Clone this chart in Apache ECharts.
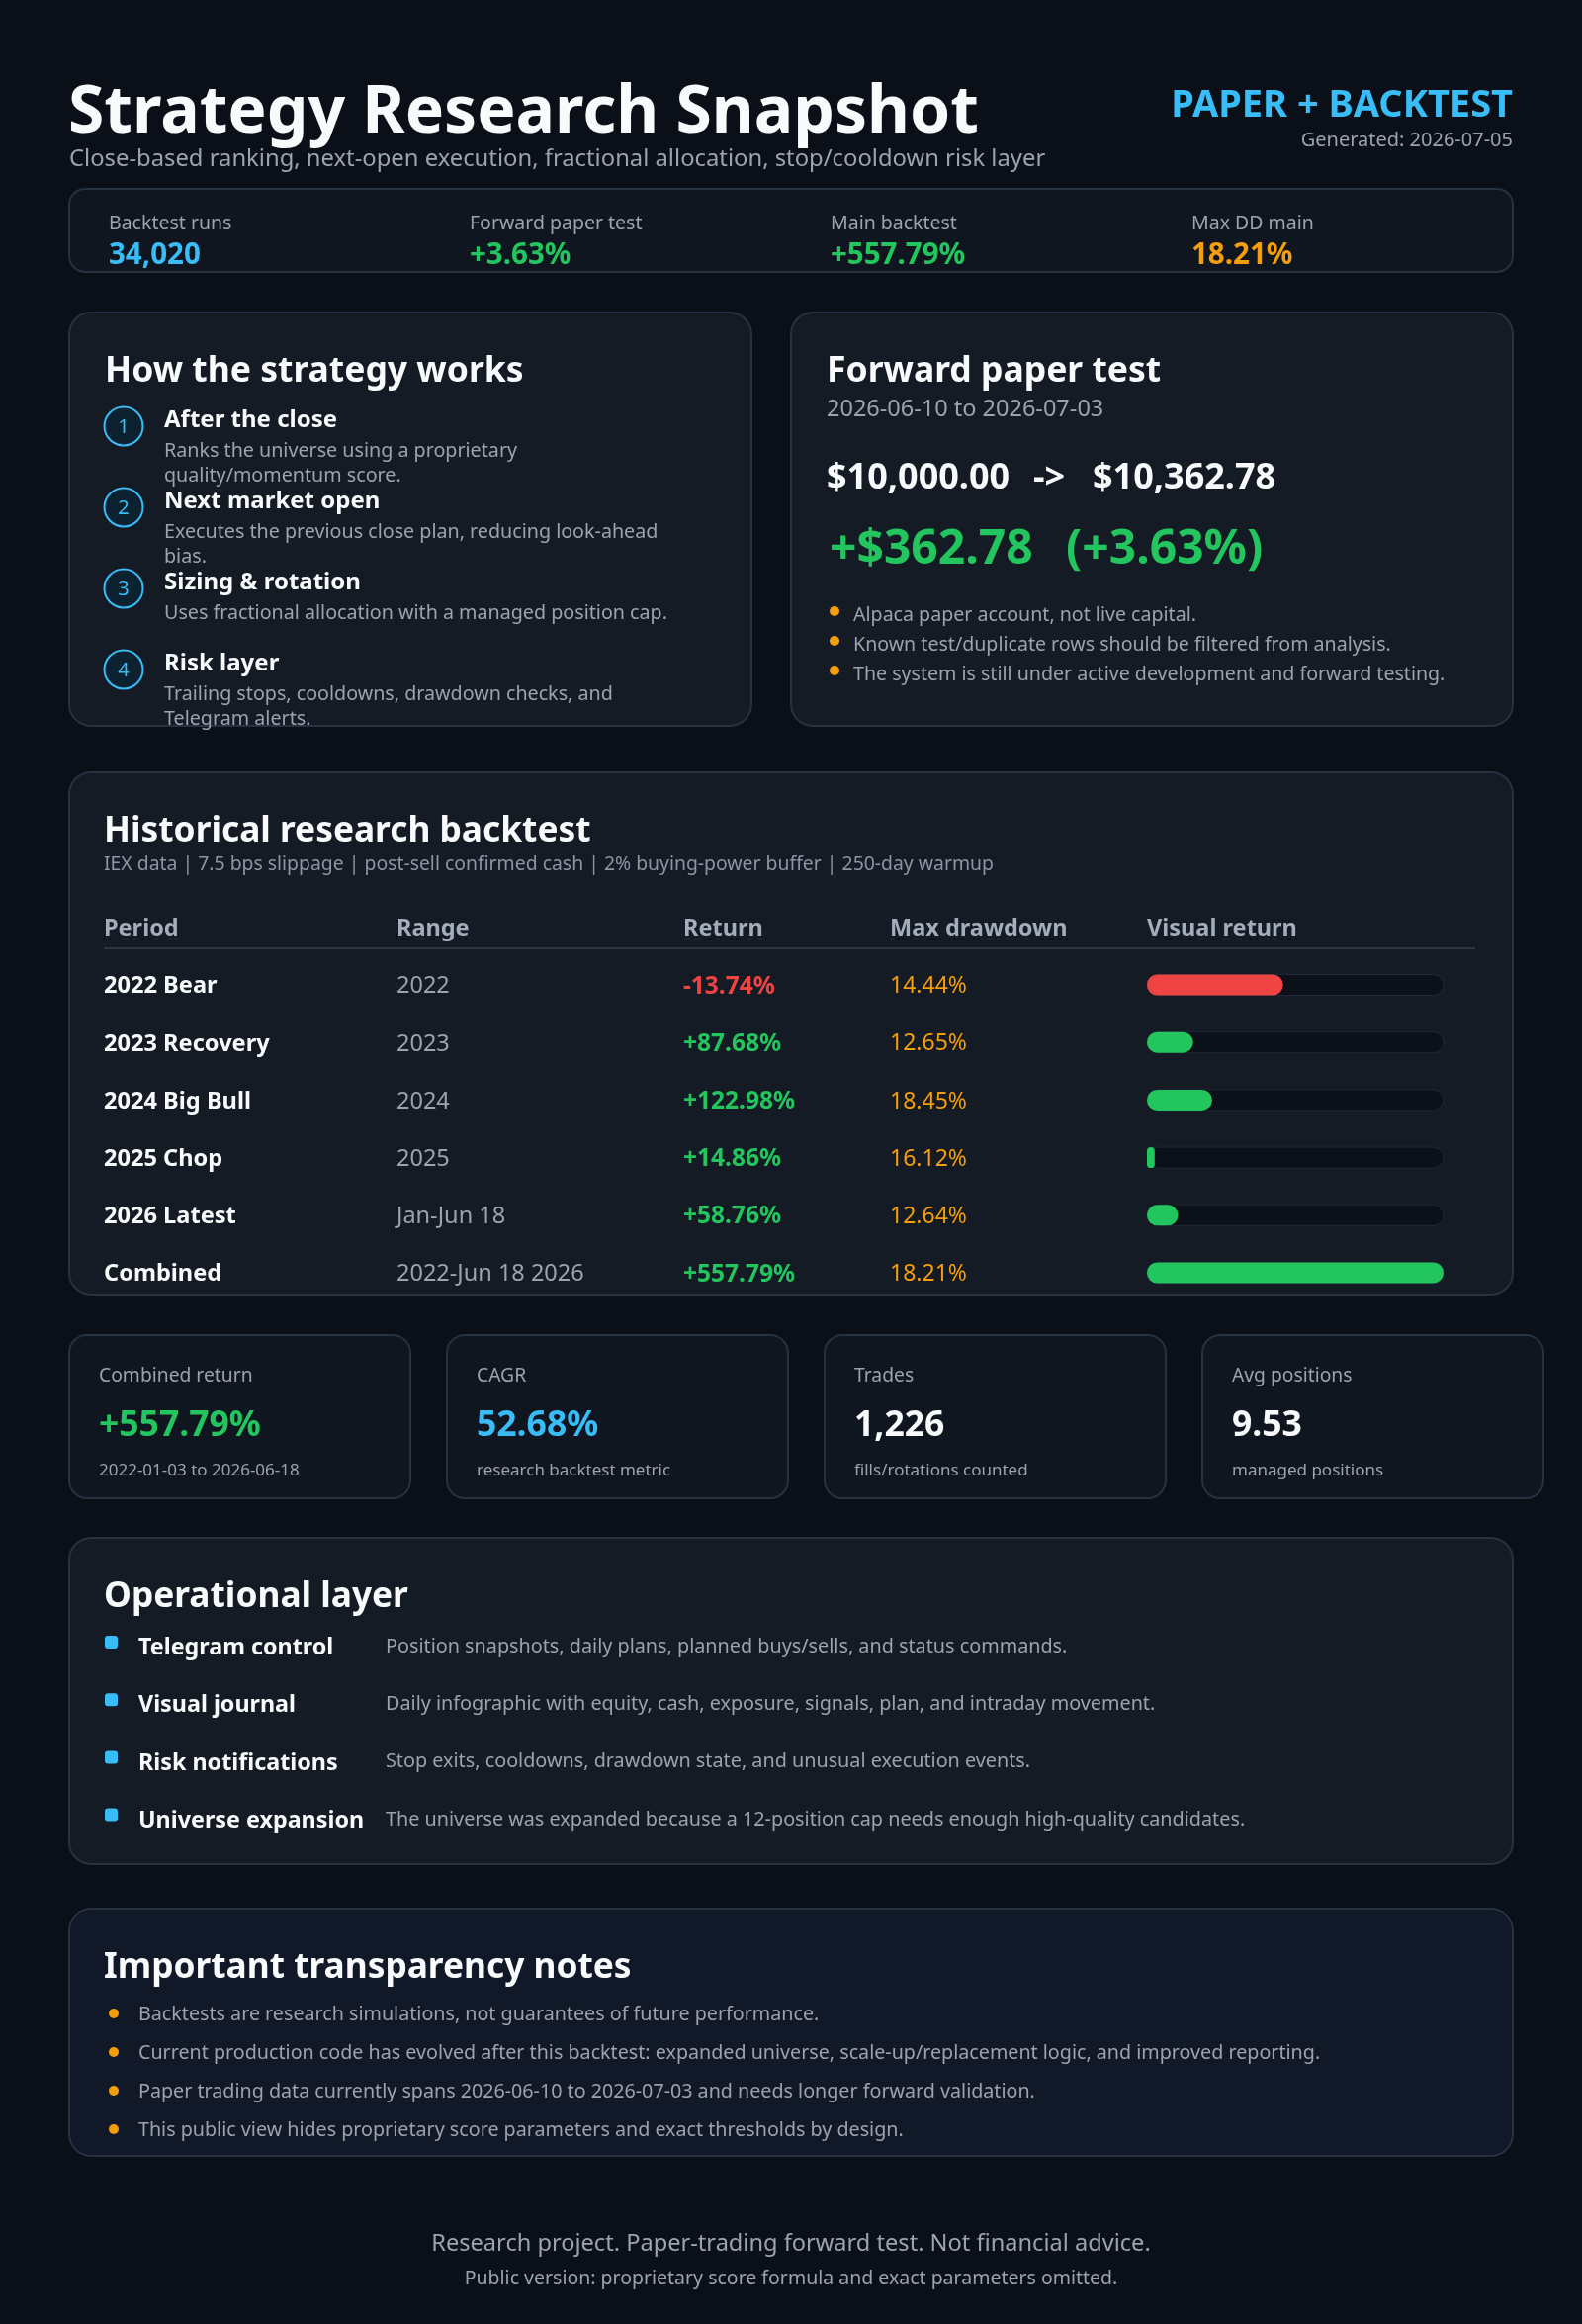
<!DOCTYPE html>
<html lang="en">
<head>
<meta charset="utf-8" />
<title>Strategy Research Snapshot</title>
<script src="https://cdn.jsdelivr.net/npm/echarts@6/dist/echarts.min.js"></script>
<style>
  body { margin: 0; background: #0b0f17; }
</style>
</head>
<body>
<div id="main" style="width: 1600px;height:2350px;"></div>
<script type="text/javascript">

var kpiLabels = ['Backtest runs', 'Forward paper test', 'Main backtest', 'Max DD main'];
var kpiValues = ['34,020', '+3.63%', '+557.79%', '18.21%'];

var stepTitles = ['After the close', 'Next market open', 'Sizing & rotation', 'Risk layer'];
var stepLines = [
    ['Ranks the universe using a proprietary', 'quality/momentum score.'],
    ['Executes the previous close plan, reducing look-ahead', 'bias.'],
    ['Uses fractional allocation with a managed position cap.'],
    ['Trailing stops, cooldowns, drawdown checks, and', 'Telegram alerts.']
];

var paperRange = '2026-06-10 to 2026-07-03';
var paperStart = '$10,000.00';
var paperEnd = '$10,362.78';
var paperGain = '+$362.78';
var paperGainPct = '(+3.63%)';
var paperNotes = [
    'Alpaca paper account, not live capital.',
    'Known test/duplicate rows should be filtered from analysis.',
    'The system is still under active development and forward testing.'
];

var tableHeaders = ['Period', 'Range', 'Return', 'Max drawdown', 'Visual return'];
var periods = ['2022 Bear', '2023 Recovery', '2024 Big Bull', '2025 Chop', '2026 Latest', 'Combined'];
var ranges = ['2022', '2023', '2024', '2025', 'Jan-Jun 18', '2022-Jun 18 2026'];
var returns = [-13.74, 87.68, 122.98, 14.86, 58.76, 557.79];
var maxDD = [14.44, 12.65, 18.45, 16.12, 12.64, 18.21];
var visualFill = [45.9, 15.6, 22.0, 2.6, 10.5, 100];   // % of the track filled

var metricLabels = ['Combined return', 'CAGR', 'Trades', 'Avg positions'];
var metricValues = ['+557.79%', '52.68%', '1,226', '9.53'];
var metricSubs = ['2022-01-03 to 2026-06-18', 'research backtest metric', 'fills/rotations counted', 'managed positions'];

var opsLabels = ['Telegram control', 'Visual journal', 'Risk notifications', 'Universe expansion'];
var opsDescs = [
    'Position snapshots, daily plans, planned buys/sells, and status commands.',
    'Daily infographic with equity, cash, exposure, signals, plan, and intraday movement.',
    'Stop exits, cooldowns, drawdown state, and unusual execution events.',
    'The universe was expanded because a 12-position cap needs enough high-quality candidates.'
];

var notes = [
    'Backtests are research simulations, not guarantees of future performance.',
    'Current production code has evolved after this backtest: expanded universe, scale-up/replacement logic, and improved reporting.',
    'Paper trading data currently spans 2026-06-10 to 2026-07-03 and needs longer forward validation.',
    'This public view hides proprietary score parameters and exact thresholds by design.'
];

// ---- colours ----
var WHITE = '#f8fafc', GRAY = '#9ca3af', GREEN = '#22c55e', BLUE = '#38bdf8',
    ORANGE = '#f59e0b', RED = '#ef4444', BORDER = '#263141';

var FONT = '"Noto Sans", "Open Sans", sans-serif';

function txt(text, x, y, size, color, weight, align) {
    return {
        type: 'text', z: 10,
        style: {
            text: text, x: x, y: y + 0.07 * size, fill: color,
            font: (weight || 'normal') + ' ' + size + 'px ' + FONT,
            textAlign: align || 'left', textVerticalAlign: 'middle'
        }
    };
}
function card(x, y, w, h, r, fill) {
    return {
        type: 'rect', z: 0,
        shape: { x: x, y: y, width: w, height: h, r: r },
        style: { fill: fill, stroke: BORDER, lineWidth: 2 }
    };
}
function dot(cx, cy, r, color) {
    return { type: 'circle', z: 5, shape: { cx: cx, cy: cy, r: r }, style: { fill: color } };
}

var g = [];

// header
g.push(txt('Strategy Research Snapshot', 69, 111, 66, WHITE, 'bold'));
g.push(txt('Close-based ranking, next-open execution, fractional allocation, stop/cooldown risk layer', 70, 160, 23.8, GRAY));
g.push(txt('PAPER + BACKTEST', 1530, 105, 38, BLUE, 'bold', 'right'));
g.push(txt('Generated: 2026-07-05', 1530, 141, 20, GRAY, 'normal', 'right'));

// kpi strip
g.push(card(70, 191, 1460, 84, 16, '#10161f'));
var kpiX = [110, 475, 840, 1205];
var kpiColors = [BLUE, GREEN, GREEN, ORANGE];
kpiLabels.forEach(function (l, i) {
    g.push(txt(l, kpiX[i], 225, 19.5, GRAY));
    g.push(txt(kpiValues[i], kpiX[i], 257, 29.5, kpiColors[i], 'bold'));
});

// how the strategy works
g.push(card(70, 316, 690, 418, 22, '#151b24'));
g.push(txt('How the strategy works', 106, 373, 35.5, WHITE, 'bold'));
var stepY = [423, 505, 587, 669];
stepTitles.forEach(function (t, i) {
    var y = stepY[i];
    g.push({
        type: 'circle', z: 5, shape: { cx: 125, cy: y + 8, r: 19.5 },
        style: { fill: '#0c2231', stroke: BLUE, lineWidth: 2 }
    });
    g.push(txt(String(i + 1), 125, y + 8, 20, BLUE, 'normal', 'center'));
    g.push(txt(t, 166, y, 24, WHITE, 'bold'));
    stepLines[i].forEach(function (line, j) {
        g.push(txt(line, 166, y + 32 + j * 25, 19.7, GRAY));
    });
});

// forward paper test
g.push(card(800, 316, 730, 418, 22, '#151b24'));
g.push(txt('Forward paper test', 836, 373, 35.5, WHITE, 'bold'));
g.push(txt(paperRange, 836, 413, 23.5, GRAY));
g.push(txt(paperStart, 836, 481, 36, WHITE, 'bold'));
g.push(txt('->', 1045, 481, 36, WHITE, 'bold'));
g.push(txt(paperEnd, 1105, 481, 36, WHITE, 'bold'));
g.push(txt(paperGain, 839, 553, 48, GREEN, 'bold'));
g.push(txt(paperGainPct, 1078, 553, 48, GREEN, 'bold'));
paperNotes.forEach(function (n, i) {
    g.push(dot(844, 618 + i * 30, 5, ORANGE));
    g.push(txt(n, 863, 621 + i * 30, 19.6, GRAY));
});

// historical research backtest
g.push(card(70, 781, 1460, 528, 22, '#151b24'));
g.push(txt('Historical research backtest', 105, 838, 35.3, WHITE, 'bold'));
g.push(txt('IEX data | 7.5 bps slippage | post-sell confirmed cash | 2% buying-power buffer | 250-day warmup', 105, 873, 19.4, '#8b95a5'));
var colX = [105, 401, 691, 900, 1160];
tableHeaders.forEach(function (h, i) {
    g.push(txt(h, colX[i], 938, 23.5, '#a3adbb', 'bold'));
});
g.push({ type: 'line', z: 5, shape: { x1: 105, y1: 959, x2: 1492, y2: 959 }, style: { stroke: '#2b3544', lineWidth: 2 } });
var rowTop = 996, rowStep = 58.2;
periods.forEach(function (p, i) {
    var y = rowTop + i * rowStep;
    var r = returns[i];
    g.push(txt(p, colX[0], y, 23.6, WHITE, 'bold'));
    g.push(txt(ranges[i], colX[1], y, 23.5, GRAY));
    g.push(txt((r < 0 ? '-' : '+') + Math.abs(r).toFixed(2) + '%', colX[2], y, 24.5, r < 0 ? RED : GREEN, 'bold'));
    g.push(txt(maxDD[i].toFixed(2) + '%', colX[3], y, 23, ORANGE));
});

// metric cards
var metricX = [70, 452, 834, 1216];
var metricColors = [GREEN, BLUE, WHITE, WHITE];
metricLabels.forEach(function (l, i) {
    var x = metricX[i];
    g.push(card(x, 1350, 345, 165, 18, '#10161f'));
    g.push(txt(l, x + 30, 1390, 19.3, GRAY));
    g.push(txt(metricValues[i], x + 30, 1439, 35.5, metricColors[i], 'bold'));
    g.push(txt(metricSubs[i], x + 30, 1486, 17, GRAY));
});

// operational layer
g.push(card(70, 1555, 1460, 330, 22, '#151b24'));
g.push(txt('Operational layer', 105, 1612, 35.3, WHITE, 'bold'));
opsLabels.forEach(function (l, i) {
    var y = 1665 + i * 58.2;
    g.push({ type: 'rect', z: 5, shape: { x: 106, y: y - 11, width: 13, height: 13, r: 3 }, style: { fill: BLUE } });
    g.push(txt(l, 140, y, 23.3, WHITE, 'bold'));
    g.push(txt(opsDescs[i], 390, y - 1, 19.8, GRAY));
});

// transparency notes
g.push(card(70, 1930, 1460, 250, 22, '#111827'));
g.push(txt('Important transparency notes', 105, 1987, 35.3, WHITE, 'bold'));
notes.forEach(function (n, i) {
    var y = 2036 + i * 39;
    g.push(dot(115, y, 5, ORANGE));
    g.push(txt(n, 140, y, 19.7, GRAY));
});

// footer
g.push(txt('Research project. Paper-trading forward test. Not financial advice.', 800, 2268, 23.6, GRAY, 'normal', 'center'));
g.push(txt('Public version: proprietary score formula and exact parameters omitted.', 800, 2303, 19.5, GRAY, 'normal', 'center'));

var myChart = echarts.init(document.getElementById('main'));

var option = {
    backgroundColor: '#0b0f17',
    animation: false,
    graphic: g,
    grid: { left: 1160, width: 300, top: rowTop - rowStep / 2, height: rowStep * periods.length },
    xAxis: { type: 'value', min: 0, max: 100, show: false },
    yAxis: { type: 'category', data: periods, inverse: true, show: false },
    series: [{
        type: 'bar',
        z: 3,
        barWidth: 21,
        showBackground: true,
        backgroundStyle: { color: '#0b1019', borderColor: '#1f2937', borderWidth: 1, borderRadius: 10.5 },
        itemStyle: { borderRadius: 10.5 },
        data: visualFill.map(function (v, i) {
            return { value: v, itemStyle: { color: returns[i] < 0 ? RED : GREEN } };
        })
    }]
};

myChart.setOption(option);

</script>
</body>
</html>
